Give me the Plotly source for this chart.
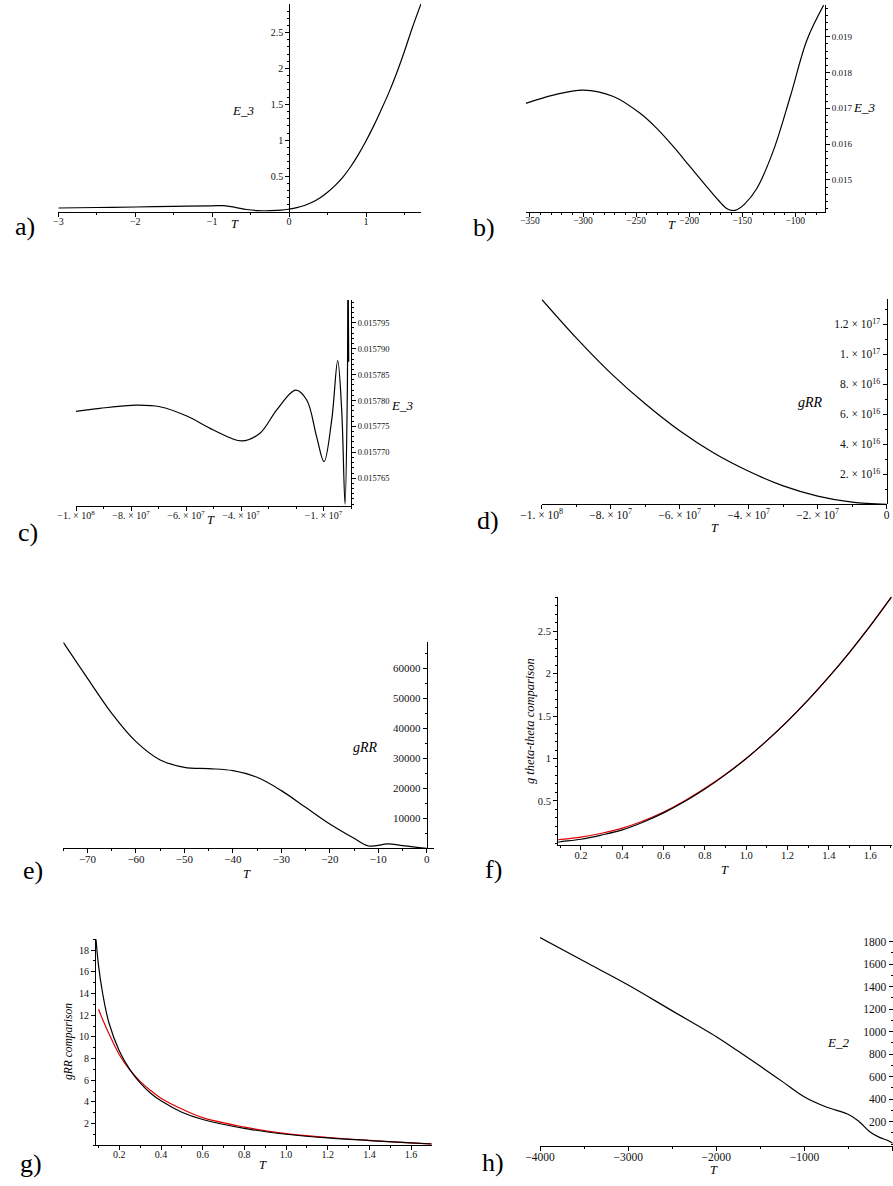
import plotly.graph_objects as go

W, H = 893, 1186

# ---------------- data ----------------
# a) E_3 vs T
a_T = [-3, -2.5, -2, -1.5, -1, -0.85, -0.7, -0.55, -0.4, -0.25, -0.1, 0, 0.1, 0.2, 0.3, 0.4, 0.5,
       0.6, 0.7, 0.8, 0.9, 1.0, 1.1, 1.2, 1.3, 1.4, 1.5, 1.6, 1.715]
a_E3 = [0.056, 0.063, 0.07, 0.078, 0.086, 0.088, 0.065, 0.035, 0.02, 0.018, 0.025, 0.04, 0.06,
        0.09, 0.135, 0.195, 0.275, 0.37, 0.485, 0.63, 0.8, 0.99, 1.2, 1.43, 1.67, 1.94, 2.24, 2.56, 2.9]
a_xticks = [-3, -2, -1, 0, 1]
a_yticks = [0.5, 1, 1.5, 2, 2.5]
a_ylabels = ["0.5", "1", "1.5", "2", "2.5"]

# b) E_3 vs T
b_T = [-354, -328, -299.7, -271.4, -246.2, -230.5, -214.8, -199.1, -183.3, -172, -165, -160,
       -155, -148, -136.1, -120.4, -104.7, -89.0, -73.3]
b_E3 = [0.01714, 0.01737, 0.01751, 0.01733, 0.01686, 0.01644, 0.01593, 0.01537, 0.01481,
        0.01442, 0.01421, 0.01415, 0.01417, 0.01432, 0.01477, 0.01584, 0.01733, 0.01891, 0.01988]
b_xticks = [-350, -300, -250, -200, -150, -100]
b_yticks = [0.015, 0.016, 0.017, 0.018, 0.019]
b_ylabels = ["0.015", "0.016", "0.017", "0.018", "0.019"]

# c) E_3 vs T (large negative T)
c_T = [-1.0e8, -9.13e7, -7.79e7, -6.95e7, -5.97e7, -5.0e7, -3.97e7, -3.31e7, -2.70e7, -2.01e7,
       -1.61e7, -1.25e7, -0.98e7, -0.70e7, -4.84e6, -3.39e6, -2.18e6, -1.35e6, -1.1e6, -0.84e6]
c_E3 = [0.0157779, 0.0157785, 0.0157791, 0.0157788, 0.0157770, 0.0157743, 0.0157722, 0.0157737,
        0.0157782, 0.0157820, 0.0157801, 0.0157730, 0.0157682, 0.0157763, 0.0157877, 0.0157782,
        0.0157600, 0.0157810, 0.0158100, 0.0157875]
c_xticks = [-1e8, -8e7, -6e7, -4e7, -1e7]
c_xlabels = ["\u22121. \u00d7 10<sup>8</sup>", "\u22128. \u00d7 10<sup>7</sup>",
             "\u22126. \u00d7 10<sup>7</sup>", "\u22124. \u00d7 10<sup>7</sup>",
             "\u22121. \u00d7 10<sup>7</sup>"]
c_yticks = [0.015765, 0.015770, 0.015775, 0.015780, 0.015785, 0.015790, 0.015795]
c_ylabels = ["0.015765", "0.015770", "0.015775", "0.015780", "0.015785", "0.015790", "0.015795"]

# d) gRR vs T (large negative T)
d_T = [-1e8, -9e7, -8e7, -7e7, -6e7, -5e7, -4e7, -3e7, -2e7, -1e7, 0]
d_gRR = [1.367e17, 1.11e17, 0.875e17, 0.67e17, 0.49e17, 0.34e17, 0.22e17, 0.123e17, 0.055e17,
         0.014e17, 0.0]
d_xticks = [-1e8, -8e7, -6e7, -4e7, -2e7, 0]
d_xlabels = ["\u22121. \u00d7 10<sup>8</sup>", "\u22128. \u00d7 10<sup>7</sup>",
             "\u22126. \u00d7 10<sup>7</sup>", "\u22124. \u00d7 10<sup>7</sup>",
             "\u22122. \u00d7 10<sup>7</sup>", "0"]
d_yticks = [2e16, 4e16, 6e16, 8e16, 1e17, 1.2e17]
d_ylabels = ["2. \u00d7 10<sup>16</sup>", "4. \u00d7 10<sup>16</sup>", "6. \u00d7 10<sup>16</sup>",
             "8. \u00d7 10<sup>16</sup>", "1. \u00d7 10<sup>17</sup>", "1.2 \u00d7 10<sup>17</sup>"]

# e) gRR vs T
e_T = [-75, -70, -65, -60, -55, -50, -45, -40, -35, -30, -25, -20, -15, -12, -8, -5, -2, 0]
e_gRR = [68667, 56667, 45000, 35556, 29444, 27000, 26556, 25889, 23667, 19222, 13667, 8111,
         3333, 778, 1444, 889, 333, 0]
e_xticks = [-70, -60, -50, -40, -30, -20, -10, 0]
e_xlabels = ["\u221270", "\u221260", "\u221250", "\u221240", "\u221230", "\u221220", "\u221210", "0"]
e_yticks = [10000, 20000, 30000, 40000, 50000, 60000]
e_ylabels = ["10000", "20000", "30000", "40000", "50000", "60000"]

# f) g theta-theta comparison
f_T = [0.09, 0.1, 0.2, 0.3, 0.4, 0.5, 0.6, 0.7, 0.8, 0.9, 1.0, 1.1, 1.2, 1.3, 1.4, 1.5, 1.6, 1.704]
f_black = [0.015, 0.02, 0.05, 0.1, 0.16, 0.25, 0.36, 0.49, 0.64, 0.81, 1.0, 1.21, 1.44, 1.69,
           1.96, 2.25, 2.56, 2.904]
f_red = [0.045, 0.047, 0.075, 0.12, 0.18, 0.265, 0.37, 0.5, 0.65, 0.815, 1.0, 1.21, 1.44, 1.69,
         1.96, 2.25, 2.56, 2.904]
f_xticks = [0.2, 0.4, 0.6, 0.8, 1.0, 1.2, 1.4, 1.6]
f_xlabels = ["0.2", "0.4", "0.6", "0.8", "1.0", "1.2", "1.4", "1.6"]
f_yticks = [0.5, 1, 1.5, 2, 2.5]
f_ylabels = ["0.5", "1", "1.5", "2", "2.5"]

# g) gRR comparison
g_T_black = [0.088, 0.1, 0.12, 0.15, 0.2, 0.25, 0.3, 0.35, 0.4, 0.5, 0.6, 0.8, 1.0, 1.2, 1.4,
             1.6, 1.699]
g_black = [19.0, 16.6, 14.0, 11.3, 8.7, 7.0, 5.75, 4.8, 4.1, 3.05, 2.38, 1.56, 1.02, 0.68, 0.44,
           0.22, 0.12]
g_T_red = [0.1, 0.12, 0.15, 0.2, 0.25, 0.3, 0.35, 0.4, 0.5, 0.6, 0.8, 1.0, 1.2, 1.4, 1.6, 1.699]
g_red = [12.55, 11.6, 10.3, 8.35, 6.95, 5.9, 5.05, 4.35, 3.35, 2.55, 1.68, 1.07, 0.72, 0.45, 0.22,
         0.13]
g_xticks = [0.2, 0.4, 0.6, 0.8, 1.0, 1.2, 1.4, 1.6]
g_xlabels = ["0.2", "0.4", "0.6", "0.8", "1.0", "1.2", "1.4", "1.6"]
g_yticks = [2, 4, 6, 8, 10, 12, 14, 16, 18]
g_ylabels = ["2", "4", "6", "8", "10", "12", "14", "16", "18"]

# h) E_2 vs T
h_T = [-4000, -3500, -3000, -2500, -2000, -1750, -1500, -1250, -1000, -760, -490, -380, -260,
       -150, -50, 0]
h_E2 = [1836, 1625, 1415, 1185, 955, 825, 692, 556, 420, 333, 260, 200, 111, 61, 31, 8]
h_xticks = [-4000, -3000, -2000, -1000, 0]
h_xlabels = ["\u22124000", "\u22123000", "\u22122000", "\u22121000", "0"]
h_yticks = [200, 400, 600, 800, 1000, 1200, 1400, 1600, 1800]
h_ylabels = ["200", "400", "600", "800", "1000", "1200", "1400", "1600", "1800"]

# ---------------- layout helpers ----------------
SERIF = "Liberation Serif, Times New Roman, Times, DejaVu Serif, serif"


def xdom(l, r):
    return [l / W, r / W]


def ydom(t, b):
    return [1 - b / H, 1 - t / H]


def axis_common(size, minor_dtick, minor_tick0=0):
    return dict(showline=True, linecolor="black", linewidth=1, ticks="outside", ticklen=4,
                tickcolor="black", tickwidth=1, showgrid=False, zeroline=False,
                automargin=False,
                tickfont=dict(family=SERIF, size=size, color="#111"),
                minor=dict(ticks="outside", ticklen=2, tickcolor="black", dtick=minor_dtick,
                           tick0=minor_tick0, showgrid=False),
                fixedrange=True)


fig = go.Figure()
layout = {}

panels = [
    dict(k=1, xd=(58.3, 421), yd=(4, 212), xr=[-3, 1.715], yr=[0, 2.898], ypos=("free", 289.3, "left"),
         xt=a_xticks, xl=None, yt=a_yticks, yl=a_ylabels, fx=10, fy=10, mx=0.5, my=0.1),
    dict(k=2, xd=(525.7, 825), yd=(5, 212), xr=[-354, -72], yr=[0.014106, 0.019885],
         ypos=("x", None, "right"), xt=b_xticks, xl=None, yt=b_yticks, yl=b_ylabels, fx=9.5, fy=9,
         mx=10, my=0.0002),
    dict(k=3, xd=(76, 351), yd=(300, 505.7), xr=[-1e8, 0], yr=[0.0157597, 0.0157994],
         ypos=("x", None, "right"), xt=c_xticks, xl=c_xlabels, yt=c_yticks, yl=c_ylabels,
         fx=10, fy=8.5, mx=1e7, my=1e-6),
    dict(k=4, xd=(541.7, 886.7), yd=(299.3, 504.3), xr=[-1e8, 0], yr=[0, 1.367e17],
         ypos=("free", 886.7, "left"), xt=d_xticks, xl=d_xlabels, yt=d_yticks, yl=d_ylabels,
         fx=11.5, fy=11.5, mx=1e7, my=1e16),
    dict(k=5, xd=(63.3, 434.3), yd=(642.3, 848.3), xr=[-75, 1.56], yr=[0, 68667],
         ypos=("free", 426.7, "left"), xt=e_xticks, xl=e_xlabels, yt=e_yticks, yl=e_ylabels,
         fx=11, fy=11, mx=5, my=5000),
    dict(k=6, xd=(558, 891.7), yd=(596.7, 845), xr=[0.089, 1.704], yr=[-0.018, 2.904],
         ypos=("x", None, "left"), xt=f_xticks, xl=f_xlabels, yt=f_yticks, yl=f_ylabels,
         fx=10.5, fy=10.5, mx=0.1, my=0.1),
    dict(k=7, xd=(96, 431.7), yd=(939.3, 1145.3), xr=[0.088, 1.699], yr=[0, 19],
         ypos=("x", None, "left"), xt=g_xticks, xl=g_xlabels, yt=g_yticks, yl=g_ylabels,
         fx=10, fy=10, mx=0.1, my=1),
    dict(k=8, xd=(540, 892.7), yd=(936.7, 1146), xr=[-4000, 0], yr=[-16, 1844],
         ypos=("free", 892.5, "left"), xt=h_xticks, xl=h_xlabels, yt=h_yticks, yl=h_ylabels,
         fx=11.5, fy=11.5, mx=500, my=100),
]

for p in panels:
    k = p["k"]
    xs = "" if k == 1 else str(k)
    xa = axis_common(p["fx"], p["mx"])
    xa.update(domain=xdom(*p["xd"]), range=p["xr"], anchor="y" + xs, tickmode="array",
              tickvals=p["xt"], ticklabelstandoff=-4)
    if p["xl"] is not None:
        xa["ticktext"] = p["xl"]
    ya = axis_common(p["fy"], p["my"])
    ya.update(domain=ydom(*p["yd"]), range=p["yr"], tickmode="array", tickvals=p["yt"])
    if p["yl"] is not None:
        ya["ticktext"] = p["yl"]
    mode, pos, side = p["ypos"]
    if mode == "free":
        ya.update(anchor="free", position=pos / W, side=side)
    else:
        ya.update(anchor="x" + xs, side=side)
    layout["xaxis" + xs] = xa
    layout["yaxis" + xs] = ya


def line(x, y, k, color="black"):
    xs = "" if k == 1 else str(k)
    fig.add_trace(go.Scatter(x=x, y=y, mode="lines", xaxis="x" + xs, yaxis="y" + xs,
                             line=dict(color=color, width=1.2, shape="spline", smoothing=1.0),
                             hoverinfo="skip"))


line(a_T, a_E3, 1)
line(b_T, b_E3, 2)
line(c_T, c_E3, 3)
line(d_T, d_gRR, 4)
line(e_T, e_gRR, 5)
line(f_T, f_red, 6, "#e00000")
line(f_T, f_black, 6)
line(g_T_red, g_red, 7, "#e00000")
line(g_T_black, g_black, 7)
line(h_T, h_E2, 8)

annotations = []


def ann(text, px, py, size, xanchor="center", angle=0):
    annotations.append(dict(text=text, x=px / W, y=1 - py / H, xref="paper", yref="paper",
                            showarrow=False, xanchor=xanchor, yanchor="middle", textangle=angle,
                            font=dict(family=SERIF, size=size, color="black")))


# panel letters
for txt, px, py in [("a)", 25, 227), ("b)", 484, 228), ("c)", 28, 532), ("d)", 488, 520),
                    ("e)", 33, 870), ("f)", 493, 869), ("g)", 31, 1163), ("h)", 493, 1162)]:
    ann(txt, px, py, 26)

# T axis labels
for px, py in [(235, 224), (672, 225), (211, 520), (715, 528), (247, 874), (725, 870),
               (263, 1165), (714, 1170)]:
    ann("<i>T</i>", px, py, 12.5)

# y axis labels
ann("<i>E_3</i>", 243, 110, 13)
ann("<i>E_3</i>", 851, 108, 13, xanchor="left")
ann("<i>E_3</i>", 389, 405, 13, xanchor="left")
ann("<i>gRR</i>", 810, 403, 14)
ann("<i>gRR</i>", 365, 747, 14)
ann("<i>E_2</i>", 838, 1042, 13)
ann("<i>g theta-theta comparison</i>", 530, 721, 12.5, angle=-90)
ann("<i>gRR comparison</i>", 68, 1042, 11.5, angle=-90)

fig.update_layout(width=W, height=H, autosize=False, margin=dict(l=0, r=0, t=0, b=0, pad=0),
                  showlegend=False, paper_bgcolor="white", plot_bgcolor="white",
                  annotations=annotations, **layout)

fig.write_html("out.html", config={"displayModeBar": False},
               post_script="document.body.style.margin='0';document.body.style.overflow='hidden';")
